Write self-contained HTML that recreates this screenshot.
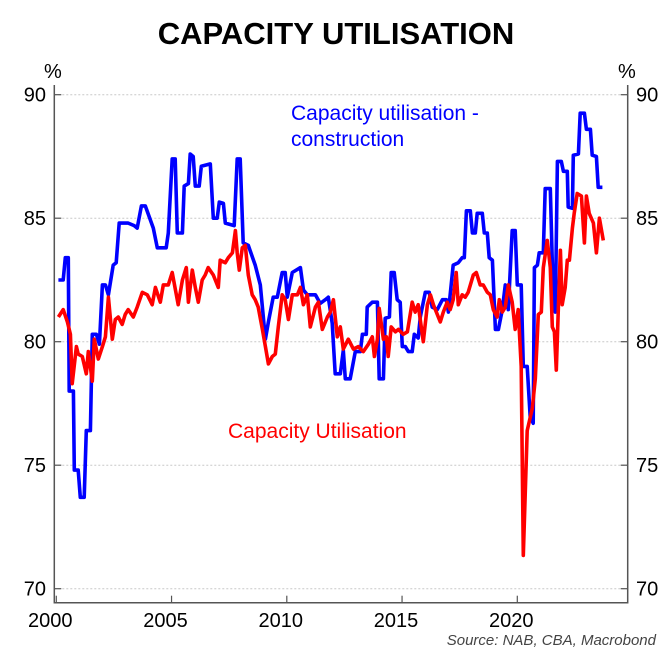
<!DOCTYPE html>
<html><head><meta charset="utf-8"><style>
body{margin:0;background:#fff;}
svg{display:block;font-family:"Liberation Sans",sans-serif;}
</style></head><body>
<svg id="chart" width="672" height="665" viewBox="0 0 672 665">
<text x="336" y="44" text-anchor="middle" font-size="31" font-weight="bold">CAPACITY UTILISATION</text>
<text x="44" y="78" font-size="20">%</text>
<text x="618" y="78" font-size="20">%</text>
<g id="grid"></g>
<g id="axes"></g>
<g id="series"></g>
<text x="291" y="120" font-size="21" fill="#0000ff">Capacity utilisation -</text>
<text x="291" y="146" font-size="21" fill="#0000ff">construction</text>
<text x="228" y="438" font-size="21" fill="#ff0000">Capacity Utilisation</text>
<text x="656" y="645" text-anchor="end" font-size="15" font-style="italic" fill="#444">Source: NAB, CBA, Macrobond</text>
</svg>
<script>
const yTicks=[70,75,80,85,90];
const xTicks=[2000,2005,2010,2015,2020];
const blueT=[.09,.30,.39,.52,.56,.74,.78,.95,1.04,1.21,1.30,1.48,1.56,1.74,1.87,2.00,2.13,2.26,2.47,2.60,2.73,3.12,3.38,3.51,3.69,3.86,4.21,4.38,4.77,4.86,5.03,5.16,5.25,5.47,5.55,5.73,5.81,5.94,6.03,6.20,6.29,6.68,6.81,6.98,7.07,7.25,7.33,7.72,7.85,7.98,8.11,8.33,8.63,8.85,9.07,9.20,9.41,9.59,9.80,9.93,10.02,10.24,10.59,10.72,10.89,11.24,11.45,11.67,11.80,11.97,12.10,12.32,12.45,12.54,12.75,12.97,13.19,13.28,13.45,13.49,13.71,13.93,14.01,14.19,14.27,14.45,14.53,14.66,14.79,14.92,15.01,15.14,15.27,15.44,15.53,15.70,15.79,16.01,16.18,16.31,16.53,16.75,16.92,17.01,17.22,17.44,17.61,17.70,17.79,17.96,18.05,18.18,18.26,18.48,18.57,18.70,18.78,18.92,19.05,19.18,19.35,19.48,19.61,19.78,19.91,20.00,20.17,20.26,20.43,20.56,20.69,20.74,20.87,20.95,21.13,21.21,21.43,21.56,21.65,21.74,21.91,22.00,22.17,22.21,22.39,22.43,22.65,22.73,22.91,23.00,23.17,23.25,23.43,23.51,23.69];
const blueV=[82.5,82.5,83.4,83.4,78.0,78.0,74.8,74.8,73.7,73.7,76.4,76.4,80.3,80.3,79.9,82.3,82.3,81.9,83.1,83.2,84.8,84.8,84.7,84.6,85.5,85.5,84.6,83.8,83.8,84.4,87.4,87.4,84.4,84.4,86.3,86.4,87.6,87.5,86.3,86.3,87.1,87.2,85.0,85.0,85.65,85.6,84.8,84.7,87.4,87.4,84.0,83.9,83.1,82.3,80.1,80.8,81.8,81.8,82.8,82.8,81.8,82.8,83.0,82.1,81.9,81.9,81.55,81.7,81.8,80.75,78.7,78.7,79.65,78.5,78.5,79.6,79.6,80.3,80.3,81.4,81.6,81.6,78.5,78.5,80.95,81.0,82.8,82.8,81.7,81.6,79.8,79.8,79.6,79.6,80.3,80.15,81.0,82.0,82.0,81.4,81.3,81.7,81.7,81.2,83.1,83.2,83.4,83.4,85.3,85.3,84.4,84.4,85.2,85.2,84.4,84.4,83.4,83.3,80.5,80.5,81.3,82.3,81.3,84.5,84.5,82.3,82.3,79.0,79.0,76.95,76.7,83.0,83.1,83.6,83.6,86.2,86.2,81.7,81.2,87.3,87.3,86.9,86.9,85.45,85.4,87.55,87.6,89.25,89.25,88.6,88.6,87.55,87.5,86.25,86.25];
const redT=[.09,.30,.48,.61,.69,.87,.95,1.13,1.30,1.39,1.56,1.65,1.82,2.00,2.13,2.26,2.43,2.56,2.69,2.86,2.99,3.12,3.34,3.51,3.73,3.95,4.16,4.30,4.51,4.64,4.86,5.03,5.29,5.47,5.64,5.73,5.90,6.03,6.16,6.33,6.46,6.59,6.81,7.03,7.11,7.33,7.46,7.64,7.77,7.85,7.94,8.07,8.20,8.33,8.50,8.63,8.76,8.94,9.07,9.20,9.37,9.50,9.63,9.80,9.93,10.07,10.24,10.46,10.59,10.72,10.89,11.02,11.24,11.37,11.54,11.76,11.89,12.02,12.19,12.32,12.45,12.67,12.89,13.10,13.32,13.54,13.71,13.80,13.93,14.01,14.19,14.32,14.40,14.53,14.71,14.84,15.05,15.23,15.44,15.57,15.70,15.92,16.10,16.23,16.36,16.53,16.66,16.79,16.96,17.09,17.22,17.35,17.44,17.61,17.74,17.87,18.09,18.22,18.39,18.52,18.70,18.83,18.96,19.13,19.22,19.35,19.48,19.61,19.78,19.91,20.04,20.17,20.26,20.43,20.65,20.78,20.91,21.04,21.13,21.30,21.43,21.52,21.61,21.69,21.78,21.87,21.95,22.08,22.17,22.26,22.39,22.47,22.60,22.78,22.91,23.00,23.12,23.30,23.43,23.56,23.73];
const redV=[81.0,81.3,80.8,80.3,78.3,79.8,79.5,79.4,78.7,79.6,78.4,80.1,79.3,79.8,80.2,81.8,80.1,80.9,81.0,80.7,81.1,81.3,81.0,81.4,82.0,81.9,81.5,82.2,81.6,82.3,82.3,82.8,81.5,82.5,83.0,81.6,82.9,82.2,81.6,82.5,82.7,83.0,82.7,82.2,83.3,83.2,83.4,83.6,84.5,83.6,82.9,83.8,83.9,82.7,81.9,81.7,81.4,80.5,79.8,79.1,79.4,79.5,80.6,81.9,81.7,80.9,81.9,81.9,82.2,81.5,81.9,80.6,81.4,81.6,80.5,81.0,81.2,81.7,80.2,80.6,79.7,80.1,79.7,79.8,79.6,79.9,80.2,79.4,80.1,81.35,80.1,80.2,79.4,80.6,80.4,80.5,80.3,80.4,81.6,81.2,81.5,80.0,81.5,81.9,81.5,81.1,80.8,81.2,81.6,81.3,81.7,82.8,81.5,81.9,81.8,82.0,82.7,82.8,82.3,82.3,82.0,81.9,81.3,81.0,81.7,81.2,81.4,82.3,81.6,80.5,81.3,79.0,71.35,76.4,77.3,78.5,81.1,81.2,83.0,84.1,83.0,80.6,80.4,78.85,81.3,83.7,81.5,82.2,83.3,83.3,84.6,85.2,86.0,85.9,84.0,85.9,85.2,84.8,83.6,85.0,84.1];

const NS='http://www.w3.org/2000/svg';
const X0=56.3,PX_YR=23.05,Y70=588.7,PX_V=24.7;
const xS=y=>X0+(y-2000)*PX_YR;
const yS=v=>Y70-(v-70)*PX_V;
const L=54.3,R=627.7,B=602.7,T=85;
function mk(tag,attrs,parent,text){const e=document.createElementNS(NS,tag);for(const k in attrs)e.setAttribute(k,attrs[k]);if(text!==undefined)e.textContent=text;parent.appendChild(e);return e;}
const grid=document.getElementById('grid'),axes=document.getElementById('axes'),ser=document.getElementById('series');
yTicks.forEach(v=>{
  const g=mk('line',{x1:L,x2:R,y1:yS(v),y2:yS(v),stroke:'#c8c8c8','stroke-width':1,'stroke-dasharray':'2,2'},grid);
  
  
  const t1=mk('line',{x1:L,x2:L+7,y1:yS(v),y2:yS(v),stroke:'#555','stroke-width':1.2},axes);
  
  
  const t2=mk('line',{x1:R-7,x2:R,y1:yS(v),y2:yS(v),stroke:'#555','stroke-width':1.2},axes);
  
  
  const a=mk('text',{x:46,y:yS(v)+7,'text-anchor':'end','font-size':20},axes,String(v));
  
  
  const b=mk('text',{x:636,y:yS(v)+7,'font-size':20},axes,String(v));
  
  
});
xTicks.forEach(y=>{
  const t=mk('line',{x1:xS(y),x2:xS(y),y1:B-7,y2:B,stroke:'#555','stroke-width':1.2},axes);
  
  
  const l=mk('text',{x:xS(y)-6,y:627,'text-anchor':'middle','font-size':20},axes,String(y));
  
  
});
const frame=mk('path',{d:`M${L},${T}V${B}H${R}V${T}`,fill:'none',stroke:'#555','stroke-width':1.5},axes);


function line(ts,vs,color,name){
  const d=ts.map((t,i)=>(i?'L':'M')+xS(2000+t).toFixed(1)+','+yS(vs[i]).toFixed(1)).join('');
  const p=mk('path',{d:d,fill:'none',stroke:color,'stroke-width':3.6,'stroke-linejoin':'round'},ser);
  
  
}
line(blueT,blueV,'#0000ff','construction-capacity-line');
line(redT,redV,'#ff0000','capacity-utilisation-line');
</script>
</body></html>
